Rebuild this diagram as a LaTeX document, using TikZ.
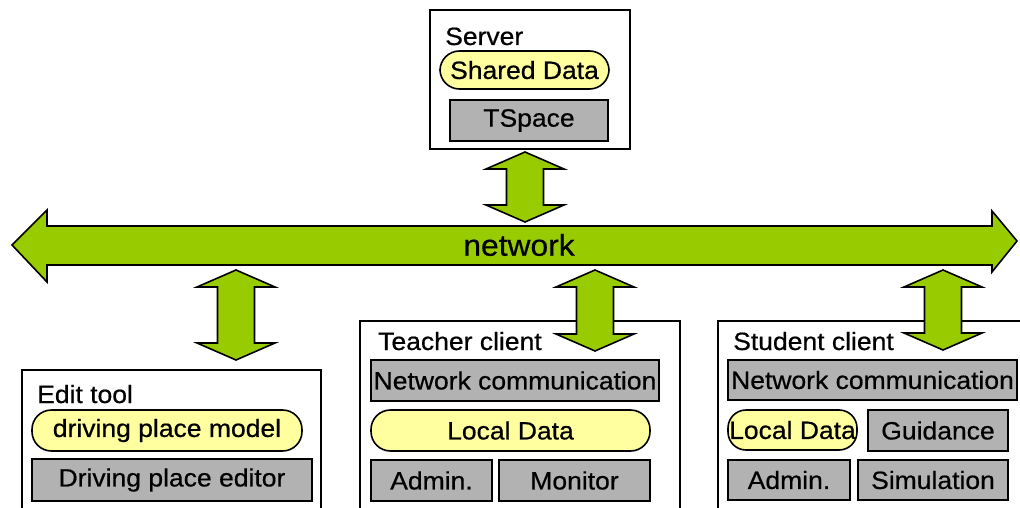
\documentclass[tikz,border=0pt]{standalone}
\usepackage{fontspec}
\setmainfont[FakeStretch=1.06, FakeBold=0.6]{Liberation Sans}
\usepackage{xcolor}
\usepackage{tikz}
\usetikzlibrary{calc}

\definecolor{linkgreen}{HTML}{99CC00}
\definecolor{datayellow}{HTML}{FFFFA0}
\definecolor{modgray}{HTML}{B2B2B2}

\tikzset{
  outerbox/.style={draw=black, line width=1.8pt, fill=white},
  boxtitle/.style={anchor=base west, inner sep=0pt},
  modbox/.style={draw=black, line width=1.6pt, fill=modgray, inner sep=0pt},
  databox/.style={draw=black, line width=1.6pt, fill=datayellow, rounded corners=19.5pt, inner sep=0pt},
  link/.style={draw=black, line width=1.6pt, fill=linkgreen, line join=miter},
}

\begin{document}
\begin{tikzpicture}[x=1pt, y=-1pt, font=\fontsize{25}{30}\selectfont]
  \useasboundingbox (0,0) rectangle (1020,508);
  \clip (0,0) rectangle (1020,508);
  % outer frames
  \node[outerbox, minimum width=200, minimum height=139] (server) at (530,79.5) {};
  \node[outerbox, minimum width=299, minimum height=150] (edit) at (171.5,445) {};
  \node[outerbox, minimum width=320, minimum height=199] (teacher) at (520,420.5) {};
  \node[outerbox, minimum width=312, minimum height=199] (student) at (874,420.5) {};
  % network bus
  \draw[link] (12,245) -- (47,210) -- (47,226) -- (992,226) -- (992,211) -- (1017,241)
    -- (992,272) -- (992,265) -- (47,265) -- (47,282) -- cycle;
  \node[font=\fontsize{30}{36}\selectfont] (net) at (519,245) {network};
  % links to the bus
  \foreach \lname/\lx/\ltop/\lbot in {srv/525/152/222, edt/236/270/360, tch/595/270/351, stu/943/270/350}{
    \coordinate (\lname-a) at (\lx,\ltop);
    \coordinate (\lname-b) at (\lx,\lbot);
    \draw[link] (\lname-a) -- ++(39,17) -- ++(-20.5,0) -- ($(\lname-b)+(18.5,-17)$) -- ++(20.5,0)
      -- (\lname-b) -- ++(-39,-17) -- ++(20.5,0) -- ($(\lname-a)+(-18.5,17)$) -- ++(-20.5,0) -- cycle;
  }
  % server
  \node[boxtitle] (servertitle) at (445,45) {Server};
  \node[databox, minimum width=169, minimum height=38] (shared) at (524.5,70) {Shared Data};
  \node[modbox, minimum width=158, minimum height=41] (tspace) at (529,120.5) {TSpace};
  % edit tool
  \node[boxtitle] (edittitle) at (37,403) {Edit tool};
  \node[databox, minimum width=270, minimum height=41] (model) at (167,430.5) {driving place model};
  \node[modbox, minimum width=280, minimum height=42] (editor) at (172,480) {Driving place editor};
  % teacher client
  \node[boxtitle] (teachertitle) at (378,350) {Teacher client};
  \node[modbox, minimum width=288, minimum height=41] (tcomm) at (515,380.5) {Network communication};
  \node[databox, minimum width=279, minimum height=41] (tlocal) at (510.5,430.5) {Local Data};
  \node[modbox, minimum width=121, minimum height=41] (tadmin) at (431.5,480.5) {Admin.};
  \node[modbox, minimum width=151, minimum height=41] (tmonitor) at (574.5,480.5) {Monitor};
  % student client
  \node[boxtitle] (studenttitle) at (733,350) {Student client};
  \node[modbox, minimum width=289, minimum height=40] (scomm) at (872.5,380) {Network communication};
  \node[databox, rounded corners=18pt, minimum width=129, minimum height=40] (slocal) at (792.5,430) {Local Data};
  \node[modbox, minimum width=140, minimum height=41] (sguide) at (938,430.5) {Guidance};
  \node[modbox, minimum width=122, minimum height=40] (sadmin) at (789,480) {Admin.};
  \node[modbox, minimum width=150, minimum height=40] (ssim) at (933,480) {Simulation};
\end{tikzpicture}
\end{document}
